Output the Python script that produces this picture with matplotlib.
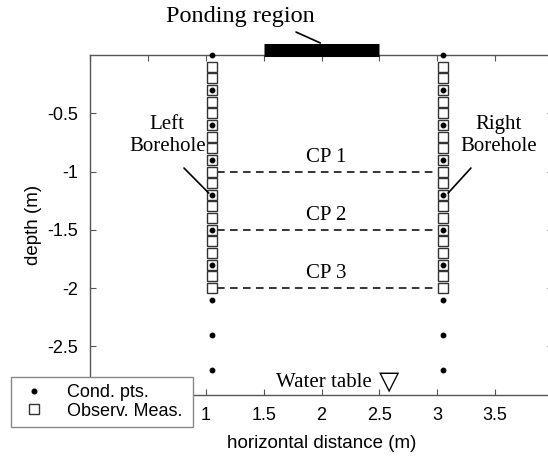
import numpy as np
import matplotlib.pyplot as plt

# borehole positions and depths (m)
bore_x = [1.05, 3.05]
cond_depth = [0.0, -0.3, -0.6, -0.9, -1.2, -1.5, -1.8, -2.1, -2.4, -2.7]
obs_depth = [-0.1, -0.2, -0.3, -0.4, -0.5, -0.6, -0.7, -0.8, -0.9, -1.0,
             -1.1, -1.2, -1.3, -1.4, -1.5, -1.6, -1.7, -1.8, -1.9, -2.0]
cp_labels = ['CP 1', 'CP 2', 'CP 3']
cp_depth = [-1.0, -1.5, -2.0]
cp_x = [1.1, 3.0]
pond_x = [1.5, 2.5]
xticks = [0, 0.5, 1, 1.5, 2, 2.5, 3, 3.5]
yticks = [-0.5, -1, -1.5, -2, -2.5]

serif = 'Liberation Serif'
sans = 'Liberation Sans'
plt.rcParams['font.family'] = sans

fig = plt.figure(figsize=(5.48, 4.61), dpi=100)
W, H = 548.0, 461.0
ax = fig.add_axes([90 / W, 1 - 395 / H, 463 / W, 340 / H])

for bx in bore_x:
    ax.plot([bx] * len(obs_depth), obs_depth, 's', ms=7.2, mfc='white',
            mec='#333333', mew=1.0, zorder=3, clip_on=False)
    ax.plot([bx] * len(cond_depth), cond_depth, 'o', ms=3.2, color='black',
            zorder=4, clip_on=False)

for lab, d in zip(cp_labels, cp_depth):
    ax.plot(cp_x, [d, d], 'k--', lw=1.1, dashes=(5, 3.5))
    ax.text(2.04, d + 0.04, lab, family=serif, fontsize=15,
            ha='center', va='bottom')

# ponding region bar on top of the box
ax.plot(pond_x, [0.047, 0.047], color='black', lw=9.4, solid_capstyle='butt',
        clip_on=False, zorder=5)
ax.text(1.30, 0.33, 'Ponding region', family=serif, fontsize=17.5,
        ha='center', va='center')
ax.annotate('', xy=(1.99, 0.103), xytext=(1.78, 0.197),
            arrowprops=dict(arrowstyle='-', color='black', lw=1.2,
                            shrinkA=0, shrinkB=0),
            annotation_clip=False)

ax.text(0.667, -0.691, 'Left\nBorehole', family=serif, fontsize=15,
        ha='center', va='center', linespacing=1.2)
ax.annotate('', xy=(1.026, -1.185), xytext=(0.812, -0.97),
            arrowprops=dict(arrowstyle='-', color='black', lw=1.2,
                            shrinkA=0, shrinkB=0))
ax.text(3.53, -0.691, 'Right\nBorehole', family=serif, fontsize=15,
        ha='center', va='center', linespacing=1.2)
ax.annotate('', xy=(3.094, -1.185), xytext=(3.291, -0.97),
            arrowprops=dict(arrowstyle='-', color='black', lw=1.2,
                            shrinkA=0, shrinkB=0))

ax.text(2.436, -2.807, 'Water table', family=serif, fontsize=15,
        ha='right', va='center')
ax.text(2.58, -2.80, '\u25BD', family='DejaVu Sans', fontsize=19,
        ha='center', va='center')

ax.set_xlim(0.043, 4.0)
ax.set_ylim(-2.918, 0.0)
ax.set_xticks(xticks)
ax.set_xticklabels([str(t) if t >= 1 else '' for t in xticks])
ax.set_yticks(yticks)
ax.set_yticklabels(['-0.5', '-1', '-1.5', '-2', '-2.5'])
ax.tick_params(direction='in', length=4, width=0.8, colors='#555555',
               labelcolor='black', labelsize=13, pad=8.5,
               top=True, right=True)
for s in ax.spines.values():
    s.set_color('#555555')
    s.set_linewidth(1.0)
ax.set_xlabel('horizontal distance (m)', fontsize=13.5, labelpad=8)
ax.set_ylabel('depth (m)', fontsize=13.5, labelpad=4)

h1, = ax.plot([], [], 'o', ms=3.3, color='black')
h2, = ax.plot([], [], 's', ms=7, mfc='white', mec='#333333', mew=1.0)
leg = ax.legend([h1, h2], ['Cond. pts.', 'Observ. Meas.'],
                loc='lower left',
                bbox_to_anchor=(11 / W, 1 - 427 / H, 182 / W, 50 / H),
                mode='expand',
                bbox_transform=fig.transFigure, fontsize=13, fancybox=False,
                framealpha=1, edgecolor='#888888', borderaxespad=0,
                handlelength=1.8, handletextpad=0.9, borderpad=0.4,
                labelspacing=0.1)
leg.get_frame().set_linewidth(1.0)
leg.set_zorder(10)

fig.savefig('out.png', dpi=100)
